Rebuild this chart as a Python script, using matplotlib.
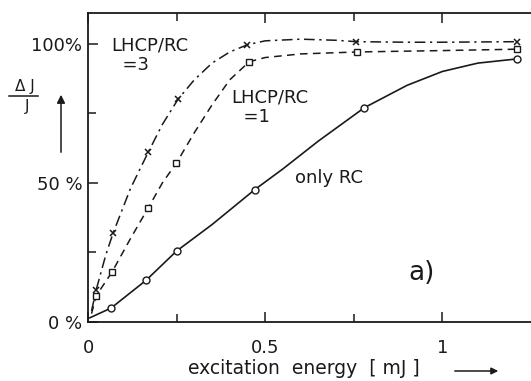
import matplotlib.pyplot as plt
import numpy as np

# measured points (x in mJ, y in %)
x_lhcp3 = [0.023, 0.071, 0.17, 0.254, 0.45, 0.757, 1.21]
y_lhcp3 = [11.5, 32, 61, 80, 99.6, 100.7, 100.7]
x_lhcp1 = [0.023, 0.068, 0.17, 0.249, 0.455, 0.76, 1.21]
y_lhcp1 = [9.4, 18, 41, 57, 93.5, 97, 98]
x_rc = [0.065, 0.164, 0.25, 0.47, 0.78, 1.21]
y_rc = [5, 15, 25.5, 47.5, 77, 94.5]

# hand-drawn fit curves
cx_lhcp3 = [0.01, 0.023, 0.05, 0.071, 0.12, 0.17, 0.21, 0.254, 0.3, 0.35, 0.4, 0.45, 0.5, 0.6, 0.7, 0.757, 0.9, 1.0, 1.21]
cy_lhcp3 = [4, 11.5, 24, 32, 48, 61, 71, 80, 87, 93, 97, 99.6, 101, 101.6, 101.2, 100.7, 100.5, 100.5, 100.7]
cx_lhcp1 = [0.01, 0.023, 0.068, 0.12, 0.17, 0.21, 0.249, 0.3, 0.35, 0.4, 0.455, 0.5, 0.6, 0.76, 0.9, 1.0, 1.21]
cy_lhcp1 = [3, 9.4, 18, 30, 41, 50, 57, 68, 78, 87, 93.5, 95, 96.3, 97, 97.3, 97.5, 98]
cx_rc = [0.005, 0.065, 0.164, 0.25, 0.35, 0.47, 0.55, 0.65, 0.78, 0.9, 1.0, 1.1, 1.21]
cy_rc = [1.5, 5, 15, 25.5, 35, 47.5, 55, 65, 77, 85, 90, 93, 94.5]

ink = '#1a1a1a'
plt.rcParams['font.family'] = 'DejaVu Sans'

fig = plt.figure(figsize=(5.31, 3.81), dpi=100)
ax = fig.add_axes([88/531, 59/381, 443/531, 309/381])

ax.plot(cx_lhcp3, cy_lhcp3, color=ink, lw=1.1, dashes=[7, 3, 1.5, 3])
ax.plot(cx_lhcp1, cy_lhcp1, color=ink, lw=1.1, dashes=[5, 3.5])
ax.plot(cx_rc, cy_rc, color=ink, lw=1.2)

ax.plot(x_lhcp3, y_lhcp3, 'x', color=ink, ms=5, mew=1.1)
ax.plot(x_lhcp1, y_lhcp1, 's', color=ink, mfc='white', ms=4.5, mew=1.0)
ax.plot(x_rc, y_rc, 'o', color=ink, mfc='white', ms=5, mew=1.0)

ax.set_xlim(0, 1.25)
ax.set_ylim(0, 111)
ax.spines['right'].set_visible(False)
for s in ['left', 'bottom', 'top']:
    ax.spines[s].set_linewidth(1.3)
    ax.spines[s].set_color(ink)

ax.set_xticks([0, 0.5, 1])
ax.set_xticklabels(['0', '0.5', '1'])
ax.set_xticks([0.25, 0.75], minor=True)
ax.set_yticks([0, 50, 100])
ax.set_yticklabels(['0 %', '50 %', '100%'])
ax.set_yticks([25, 75], minor=True)
ax.tick_params(which='both', direction='in', top=True, colors=ink, labelsize=13, width=1.1)
ax.tick_params(which='major', length=7)
ax.tick_params(axis='y', which='major', pad=4)
ax.tick_params(axis='x', which='major', pad=12)
ax.tick_params(which='minor', length=6)

ax.text(0.065, 90.5, 'LHCP/RC\n  =3', fontsize=13, color=ink, linespacing=1.1)
ax.text(0.405, 72, 'LHCP/RC\n  =1', fontsize=13, color=ink, linespacing=1.1)
ax.text(0.585, 50, 'only RC', fontsize=13, color=ink)
ax.text(0.905, 15, 'a)', fontsize=19, color=ink)

# y label: fraction with upward arrow
fig.text(25/531, 1 - 87/381, 'Δ J', fontsize=11, color=ink, ha='center', va='center')
fig.add_artist(plt.Line2D([9/531, 38/531], [1 - 96/381, 1 - 96/381], color=ink, lw=1.1))
fig.text(27/531, 1 - 107/381, 'J', fontsize=11, color=ink, ha='center', va='center')
ax.annotate('', xy=(61/531, 1 - 92/381), xytext=(61/531, 1 - 155/381),
            xycoords='figure fraction', textcoords='figure fraction',
            arrowprops=dict(arrowstyle='-|>', color=ink, lw=1.1, mutation_scale=12))

# x label with right arrow
fig.text(304/531, 1 - 369/381, 'excitation  energy  [ mJ ]', fontsize=13.5, color=ink,
         ha='center', va='center')
ax.annotate('', xy=(501/531, 1 - 371/381), xytext=(452/531, 1 - 371/381),
            xycoords='figure fraction', textcoords='figure fraction',
            arrowprops=dict(arrowstyle='-|>', color=ink, lw=1.1, mutation_scale=10))

fig.savefig('out.png', dpi=100)
